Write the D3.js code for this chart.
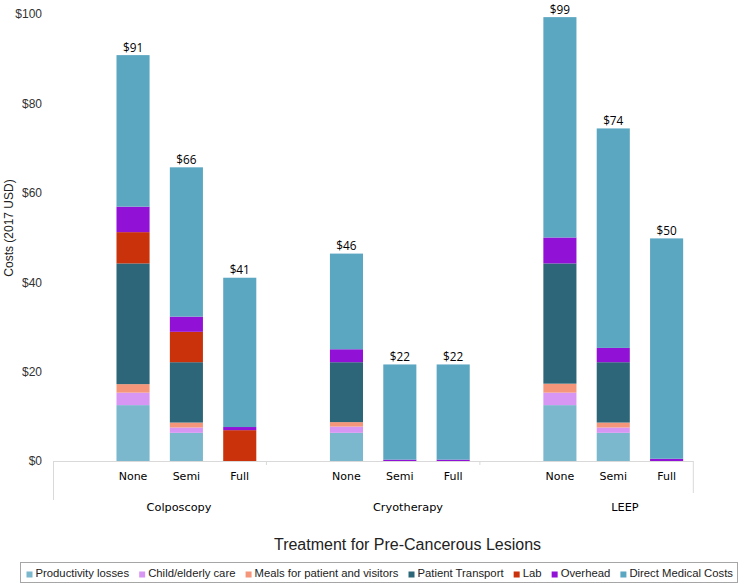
<!DOCTYPE html>
<html>
<head>
<meta charset="utf-8">
<script src="https://cdn.jsdelivr.net/npm/d3@7"></script>
<style>
  html, body { margin: 0; padding: 0; background: #fff; }
  svg { display: block; }
</style>
</head>
<body>
<svg id="chart" width="750" height="585"></svg>
<script>
// ---------- data ----------
const groups = ["Colposcopy", "Cryotherapy", "LEEP"];
const levels = ["None", "Semi", "Full"];
const seriesNames = ["Productivity losses", "Child/elderly care", "Meals for patient and visitors",
                     "Patient Transport", "Lab", "Overhead", "Direct Medical Costs"];
// order of bars: Colposcopy None/Semi/Full, Cryotherapy None/Semi/Full, LEEP None/Semi/Full
const productivity = [12.5, 6.3, 0,   6.3, 0,   0,   12.5, 6.3, 0];
const childCare    = [2.8,  1.2, 0,   1.4, 0,   0,   2.8,  1.2, 0];
const meals        = [1.9,  1.1, 0,   1.0, 0,   0,   2.0,  1.1, 0];
const transport    = [27.0, 13.5, 0,  13.4, 0,  0,   26.9, 13.5, 0];
const lab          = [7.0,  6.8, 6.9, 0,   0,   0,   0,    0,   0];
const overhead     = [5.7,  3.4, 0.7, 2.9, 0.3, 0.3, 5.8,  3.2, 0.5];
const direct       = [33.9, 33.4, 33.4, 21.4, 21.3, 21.3, 49.3, 49.1, 49.3];
const yTicks = [0, 20, 40, 60, 80, 100];
const colors = ["#7bb7cd", "#d896f4", "#f5967a", "#2d6678", "#c9320b", "#9211d6", "#5ba6c1"];

// ---------- build table ----------
const seriesValues = [productivity, childCare, meals, transport, lab, overhead, direct];
const rows = [];
groups.forEach((g, gi) => levels.forEach((l, li) => {
  const i = gi * levels.length + li;
  const r = { key: g + "|" + l, group: g, level: l };
  seriesNames.forEach((s, si) => r[s] = seriesValues[si][i]);
  rows.push(r);
}));
// slots: one blank slot before each group's bars
const slots = [];
groups.forEach(g => { slots.push(g + "|blank"); levels.forEach(l => slots.push(g + "|" + l)); });

const svg = d3.select("#chart");
const plotL = 53, plotR = 693.3, plotT = 14, plotB = 461;

const x = d3.scaleBand().domain(slots).range([plotL, plotR]).paddingInner(0.38).paddingOuter(0.19);
const y = d3.scaleLinear().domain([0, 100]).range([plotB, plotT]);

const stack = d3.stack().keys(seriesNames);
const stacked = stack(rows);

// bars
svg.append("g").selectAll("g").data(stacked).join("g")
  .attr("fill", (d, i) => colors[i])
  .selectAll("rect").data(d => d.filter(s => s[1] - s[0] > 0)).join("rect")
  .attr("x", d => x(d.data.key))
  .attr("width", x.bandwidth())
  .attr("y", d => y(d[1]))
  .attr("height", d => y(d[0]) - y(d[1]));

// total labels
svg.append("g").selectAll("text").data(rows).join("text")
  .attr("x", d => x(d.key) + x.bandwidth() / 2)
  .attr("y", d => y(d3.sum(seriesNames, s => d[s])) - 3.5)
  .attr("text-anchor", "middle")
  .attr("font-family", "'Open Sans', sans-serif")
  .attr("font-size", 11.8)
  .attr("fill", "#000")
  .text(d => "$" + Math.round(d3.sum(seriesNames, s => d[s])));

// y axis labels
const yAxis = svg.append("g").attr("transform", `translate(${plotL},0)`)
  .call(d3.axisLeft(y).tickValues(yTicks).tickFormat(d => "$" + d).tickSize(0).tickPadding(11));
yAxis.select(".domain").remove();
yAxis.selectAll("text").attr("font-family", "'Liberation Sans', Arial, sans-serif")
  .attr("font-size", 12).attr("fill", "#333");

// y axis title
svg.append("text")
  .attr("transform", `translate(13,228) rotate(-90)`)
  .attr("text-anchor", "middle")
  .attr("font-family", "'Liberation Sans', Arial, sans-serif")
  .attr("font-size", 12).attr("fill", "#222")
  .text("Costs (2017 USD)");

// category axis
const axisColor = "#d9d9d9";
svg.append("line").attr("x1", plotL).attr("x2", plotR).attr("y1", plotB + 0.5).attr("y2", plotB + 0.5)
  .attr("stroke", axisColor);
svg.append("line").attr("x1", plotL + 0.5).attr("x2", plotL + 0.5).attr("y1", plotB).attr("y2", plotB + 39)
  .attr("stroke", axisColor);
svg.append("line").attr("x1", plotR).attr("x2", plotR).attr("y1", plotB).attr("y2", plotB + 32)
  .attr("stroke", axisColor);
// group boundary ticks
groups.slice(1).forEach(g => {
  const bx = x(g + "|blank") - x.step() * x.paddingInner() / 2;
  svg.append("line").attr("x1", bx).attr("x2", bx).attr("y1", plotB).attr("y2", plotB + 4)
    .attr("stroke", axisColor);
});

svg.append("g").selectAll("text").data(rows).join("text")
  .attr("x", d => x(d.key) + x.bandwidth() / 2)
  .attr("y", 480)
  .attr("text-anchor", "middle")
  .attr("font-family", "'DejaVu Sans', sans-serif")
  .attr("font-size", 11)
  .attr("fill", "#000")
  .text(d => d.level);

// group labels (placed relative to each group's bars)
const groupNudge = [46, 61.5, 65];
svg.append("g").selectAll("text").data(groups).join("text")
  .attr("x", (g, i) => x(g + "|None") + x.bandwidth() / 2 + groupNudge[i])
  .attr("y", 511)
  .attr("text-anchor", "middle")
  .attr("font-family", "'DejaVu Sans', sans-serif")
  .attr("font-size", 11.3)
  .attr("fill", "#000")
  .text(g => g);

// x axis title
svg.append("text")
  .attr("x", 407.5).attr("y", 550)
  .attr("text-anchor", "middle")
  .attr("font-family", "'Liberation Sans', Arial, sans-serif")
  .attr("font-size", 16).attr("fill", "#222")
  .text("Treatment for Pre-Cancerous Lesions");

// legend
const legBox = { x: 20.5, y: 562.5, w: 717, h: 20 };
svg.append("rect").attr("x", legBox.x).attr("y", legBox.y).attr("width", legBox.w).attr("height", legBox.h)
  .attr("fill", "none").attr("stroke", "#a6a6a6");
const leg = svg.append("g");
const items = leg.selectAll("g").data(seriesNames).join("g");
items.append("rect").attr("width", 6).attr("height", 6).attr("y", -5)
  .attr("fill", (d, i) => colors[i]);
items.append("text").attr("x", 9).attr("y", 0)
  .attr("font-family", "'Liberation Sans', Arial, sans-serif")
  .attr("font-size", 11.3).attr("fill", "#222")
  .text(d => d);
const widths = [];
items.each(function () { widths.push(9 + d3.select(this).select("text").node().getComputedTextLength()); });
const startX = 26.5, endX = 733;
const gap = (endX - startX - d3.sum(widths)) / (widths.length - 1);
let cx = startX;
items.attr("transform", (d, i) => { const t = `translate(${cx},576.5)`; cx += widths[i] + gap; return t; });
</script>
</body>
</html>
